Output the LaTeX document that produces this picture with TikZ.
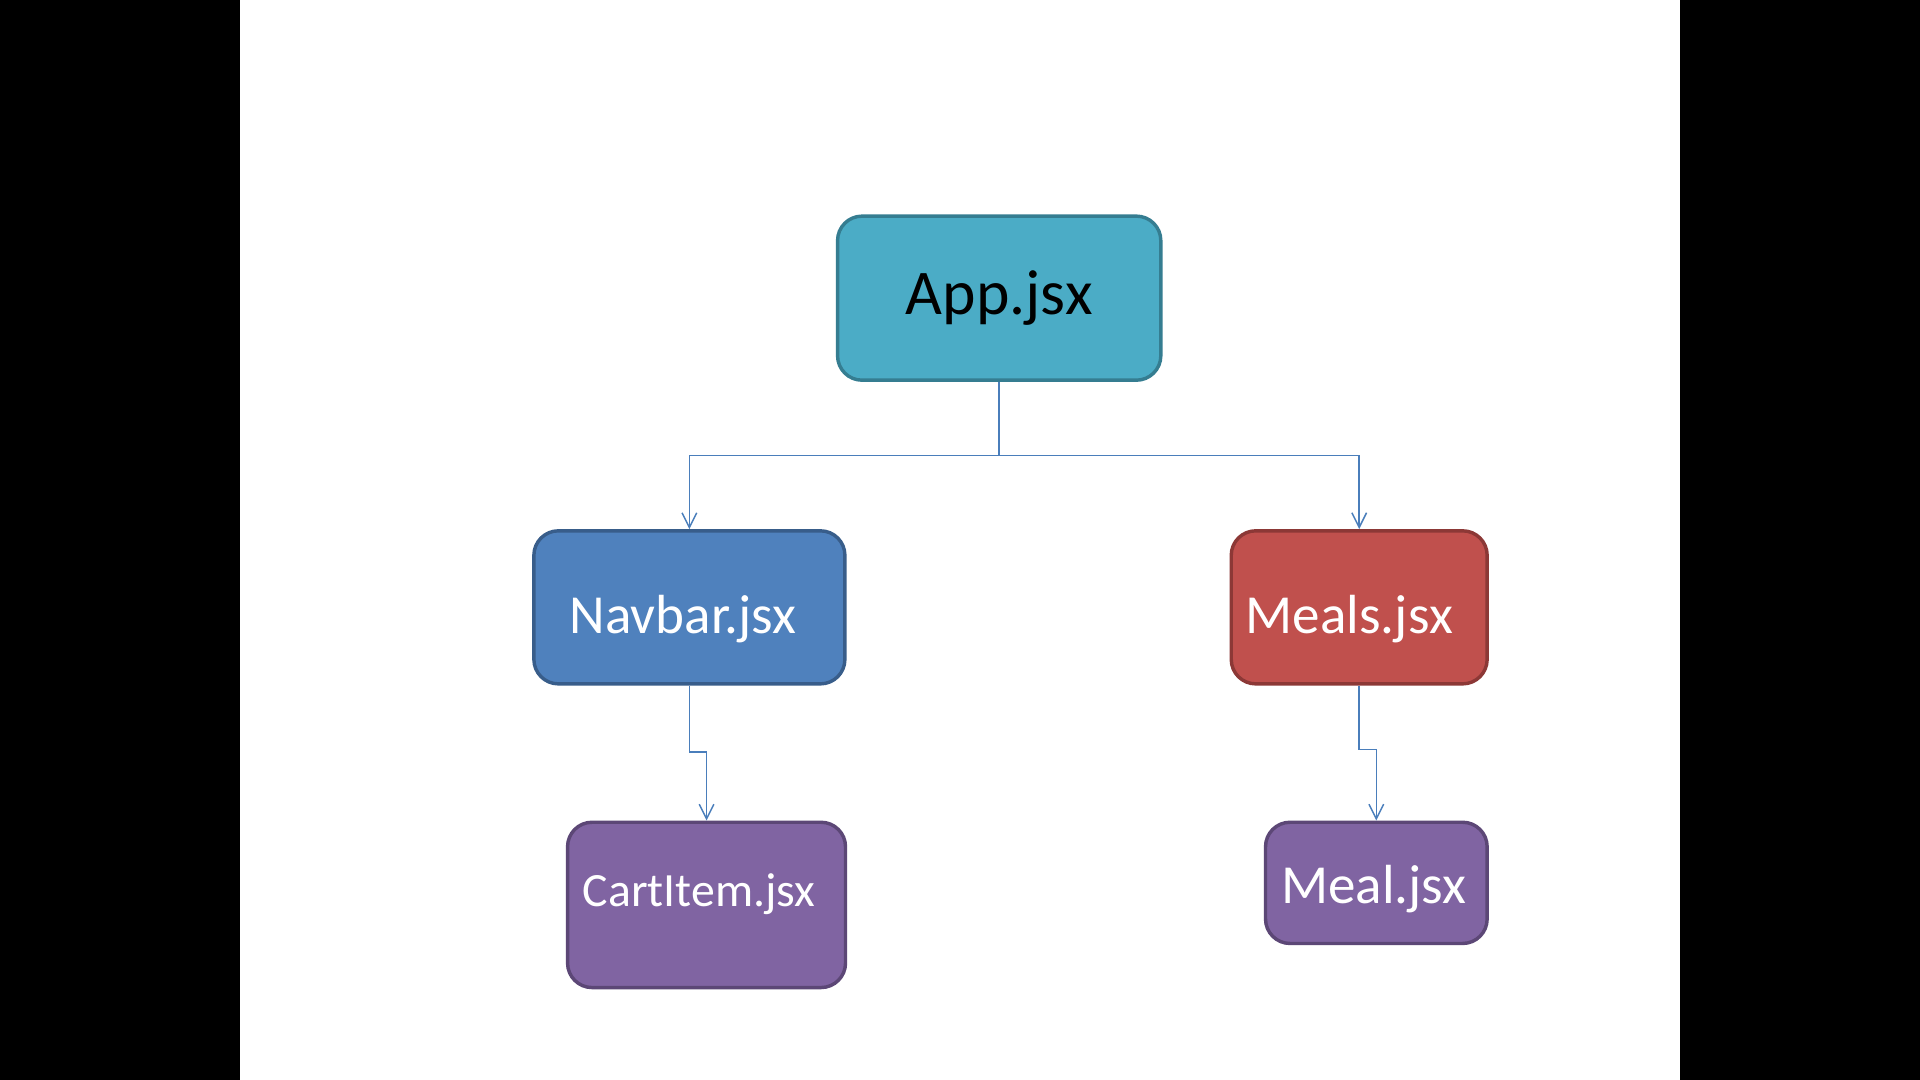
\documentclass[tikz,border=0pt]{standalone}
\usepackage{fontspec}
\setmainfont{Carlito}
\usetikzlibrary{arrows.meta}
\definecolor{appfill}{HTML}{4BACC6}
\definecolor{appline}{HTML}{357D91}
\definecolor{navfill}{HTML}{4F81BD}
\definecolor{navline}{HTML}{385D8A}
\definecolor{redfill}{HTML}{C0504D}
\definecolor{redline}{HTML}{8C3836}
\definecolor{purfill}{HTML}{8064A2}
\definecolor{purline}{HTML}{5C4776}
\definecolor{connline}{HTML}{4A7EBB}
\tikzset{
  box/.style={rectangle, rounded corners=10pt, line width=1.4pt, inner sep=0pt, align=center},
  conn/.style={draw=connline, line width=0.6pt, -{Straight Barb[length=6pt,width=6pt]}}
}
\begin{document}
\begin{tikzpicture}[x=0.5pt,y=-0.5pt]
\fill[black] (0,0) rectangle (1568,882);
\fill[white] (196,0) rectangle (1372,882);
\useasboundingbox (0,0) rectangle (1568,882);
\node[box, fill=appfill, draw=appline, minimum width=132pt, minimum height=67pt, font=\fontsize{26}{30}\selectfont, text=black] (app) at (816,243.5) {\raisebox{-6.75pt}[0pt][0pt]{App.jsx}};
\node[box, fill=navfill, draw=navline, minimum width=127pt, minimum height=62.5pt, font=\fontsize{22.5}{26}\selectfont, text=white] (navbar) at (563,496) {\raisebox{-10.5pt}[0pt][0pt]{Navbar.jsx}\hspace*{5pt}};
\node[box, fill=redfill, draw=redline, minimum width=104.5pt, minimum height=62.5pt, font=\fontsize{22.5}{26}\selectfont, text=white] (meals) at (1110,496) {\raisebox{-10.5pt}[0pt][0pt]{Meals.jsx}\hspace*{8pt}};
\node[box, fill=purfill, draw=purline, minimum width=113.5pt, minimum height=67.5pt, font=\fontsize{19.5}{22}\selectfont, text=white] (cartitem) at (577,739) {\raisebox{-0.75pt}[0pt][0pt]{CartItem.jsx}\hspace*{6pt}};
\node[box, fill=purfill, draw=purline, minimum width=90.5pt, minimum height=49.5pt, font=\fontsize{22.5}{26}\selectfont, text=white] (meal) at (1124,721) {\raisebox{-8.25pt}[0pt][0pt]{Meal.jsx}\hspace*{2pt}};
\coordinate (split) at (816,372);
\coordinate (navbend) at (563,614);
\coordinate (mealbend) at (1110,612);
\draw[conn] (app.south) -- (split) -| (navbar.north);
\draw[conn] (split) -| (meals.north);
\draw[conn] (navbar.south) -- (navbend) -| (cartitem.north);
\draw[conn] (meals.south) -- (mealbend) -| (meal.north);
\end{tikzpicture}
\end{document}
